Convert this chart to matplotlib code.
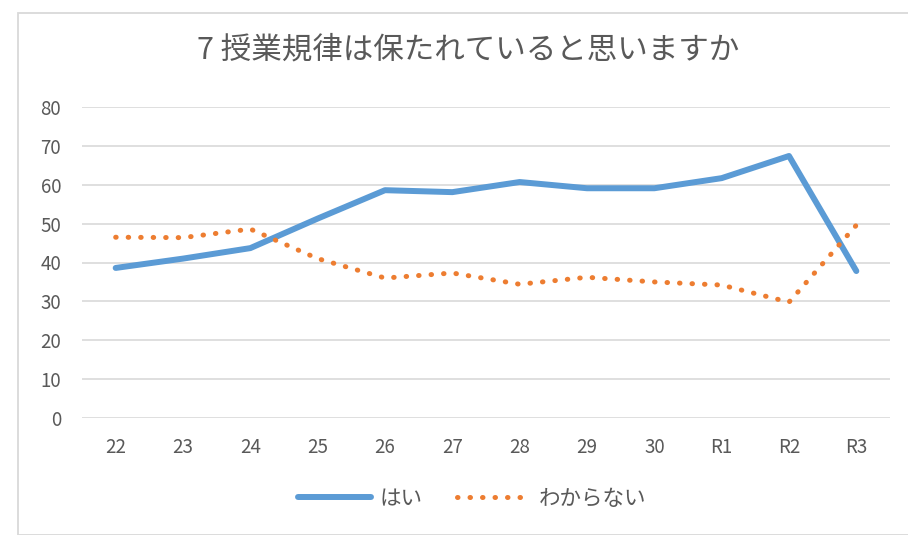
import matplotlib
matplotlib.use("Agg")
import matplotlib.pyplot as plt
from matplotlib.patches import Rectangle

plt.rcParams['font.family'] = ['Noto Sans CJK JP', 'DejaVu Sans']

categories = ["22", "23", "24", "25", "26", "27", "28", "29", "30", "R1", "R2", "R3"]
hai = [38.6, 41.0, 43.7, 51.3, 58.6, 58.1, 60.7, 59.1, 59.1, 61.7, 67.4, 37.8]
wakaranai = [46.5, 46.4, 48.6, 41.0, 36.0, 37.3, 34.4, 36.2, 35.0, 34.2, 29.8, 49.6]
yticks = [0, 10, 20, 30, 40, 50, 60, 70, 80]
title = "7 授業規律は保たれていると思いますか"

W, H = 908, 535
fig = plt.figure(figsize=(W / 100, H / 100), dpi=100)
fig.patches.append(Rectangle((18 / W, 0), 1.0, 1 - 13 / H, transform=fig.transFigure,
                             fill=False, edgecolor="#d9d9d9", linewidth=1.3))

ax = fig.add_axes([82 / W, 1 - 418 / H, (890 - 82) / W, (418 - 107) / H])
x = list(range(len(categories)))
ax.plot(x, hai, color="#5b9bd5", linewidth=4.3, solid_capstyle="round", label="はい", zorder=3)
ax.plot(x, wakaranai, color="#ed7d31", linewidth=3.6, linestyle=(0, (0.1, 2.4)),
        dash_capstyle="round", label="わからない", zorder=3)

ax.set_xlim(-0.5, len(categories) - 0.5)
ax.set_ylim(0, 80)
ax.set_yticks(yticks)
ax.set_xticks(x)
ax.set_xticklabels(categories)
ax.grid(axis="y", color="#d9d9d9", linewidth=1.2)
ax.set_axisbelow(True)
for s in ax.spines.values():
    s.set_visible(False)
ax.tick_params(axis="both", length=0, labelsize=13.5, colors="#595959")
ax.tick_params(axis="y", pad=15)
ax.tick_params(axis="x", pad=14)

fig.text(468 / W, 1 - 50 / H, title, ha="center", va="center",
         fontsize=22, color="#595959")

leg = fig.legend(loc="center", bbox_to_anchor=(472 / W, 1 - 499 / H), ncol=2, frameon=False,
                 fontsize=15.5, handlelength=3.4, columnspacing=1.6, handletextpad=0.4)
for t in leg.get_texts():
    t.set_color("#595959")

fig.savefig("out.png", dpi=100, facecolor="white")
